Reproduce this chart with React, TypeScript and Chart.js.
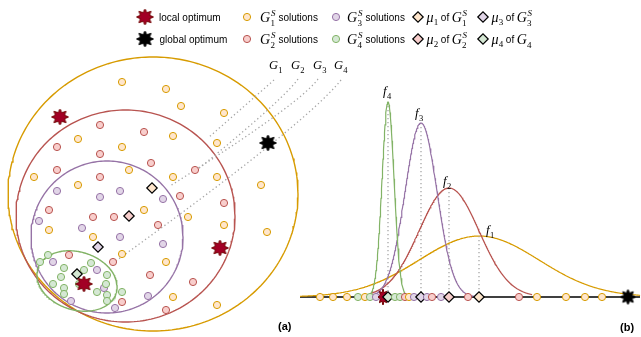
import React, { useEffect, useRef } from 'react';
import { Chart, registerables } from 'chart.js';

Chart.register(...registerables);

const WIDTH = 641;
const HEIGHT = 337;

// ---------- panel (a): solutions in the search space ----------
const g1SolX = [122, 166, 181, 224, 78, 122, 173, 217, 34, 78, 129, 173, 217, 261, 49, 144, 188, 224, 267, 93, 122, 166, 173, 217];
const g1SolY = [82, 89, 106, 113, 139, 147, 136, 143, 177, 185, 170, 177, 177, 185, 230, 210, 217, 225, 232, 237, 254, 262, 297, 305];
const g2SolX = [100, 144, 57, 100, 57, 100, 151, 195, 180, 224, 49, 93, 114, 158, 69, 113, 150, 193, 122, 166];
const g2SolY = [125, 132, 147, 154, 170, 177, 163, 170, 196, 203, 210, 217, 217, 225, 255, 262, 275, 282, 302, 310];
const g3SolX = [57, 100, 120, 163, 39, 82, 120, 163, 53, 97, 104, 71, 148, 115];
const g3SolY = [191, 197, 191, 199, 221, 228, 237, 244, 262, 270, 288, 301, 296, 308];
const g4SolX = [48, 40, 64, 91, 84, 61, 107, 53, 64, 64, 79, 106, 97, 107, 122, 107];
const g4SolY = [255, 262, 268, 263, 270, 277, 275, 284, 288, 294, 284, 284, 292, 295, 292, 301];
const meanX = [152, 129, 98, 77];
const meanY = [188, 216, 247, 274];
const localOptX = [60, 220, 84];
const localOptY = [117, 248, 284];
const globalOptX = [268];
const globalOptY = [143];

// group boundaries G1..G4
const ellCx = [153, 125.5, 107, 77];
const ellCy = [194, 216, 237, 281];
const ellRx = [145, 109.5, 76, 41];
const ellRy = [137, 106, 76, 29];
const ellRot = [0, 0, 0, 0.3];

// dotted leaders from labels G1..G4 (start, control, end of a quadratic curve)
const leaderX = [[274, 241, 208], [298, 285, 197], [318, 300, 170], [341, 305, 113]];
const leaderY = [[80, 109, 138], [79, 98, 170], [79, 104, 186], [80, 125, 263]];
const leaderLabelX = [269, 291, 313, 334];
const leaderLabelY = 69;

// ---------- panel (b): 1-D projection ----------
const axisY = 297;
const axisStart = 300;
const axisEnd = 640;
const axisG1X = [320, 333, 347, 365, 409, 537, 566, 585, 602];
const axisG2X = [405, 432, 468, 519];
const axisG3X = [376, 414, 427, 441];
const axisG4X = [358, 370, 395, 400];
const axisLocalX = [383];
const axisGlobalX = [628];
const fMu = [479, 449, 421, 388];
const fSigma = [60, 30, 16, 6];
const fPeak = [61, 109, 174, 195];
const fRangeStart = [300, 370, 368, 368];
const fRangeEnd = [640, 532, 474, 408];
const fLabelX = [486, 443, 415, 383];
const fLabelY = [234, 185, 117, 95];

const groupStroke = ['#D79B00', '#B85450', '#9673A6', '#82B366'];
const groupFill = ['#FFE6CC', '#F8CECC', '#E1D5E7', '#D5E8D4'];
const DOT = '#A6A6A6';
const SERIF = '"Liberation Serif", "DejaVu Serif", serif';
const SANS = '"Liberation Sans", Arial, sans-serif';

function makeStar(fill: string, stroke: string, w: number, h: number) {
  const c = document.createElement('canvas');
  c.width = Math.ceil(w + 4);
  c.height = Math.ceil(h + 4);
  const g = c.getContext('2d')!;
  g.translate(c.width / 2, c.height / 2);
  g.beginPath();
  const n = 8;
  for (let i = 0; i < n * 2; i++) {
    const a = -Math.PI / 2 + (i * Math.PI) / n;
    const r = i % 2 === 0 ? 1 : 0.58;
    const px = (Math.cos(a) * r * w) / 2;
    const py = (Math.sin(a) * r * h) / 2;
    if (i === 0) g.moveTo(px, py);
    else g.lineTo(px, py);
  }
  g.closePath();
  g.fillStyle = fill;
  g.fill();
  g.lineWidth = 1;
  g.strokeStyle = stroke;
  g.stroke();
  return c;
}

function pts(xs: number[], ys: number[]) {
  return xs.map((x, i) => ({ x, y: ys[i] }));
}

function quad(xs: number[], ys: number[]) {
  const out: { x: number; y: number }[] = [];
  for (let k = 0; k <= 60; k++) {
    const t = k / 60;
    const a = (1 - t) * (1 - t);
    const b = 2 * (1 - t) * t;
    const c = t * t;
    out.push({ x: a * xs[0] + b * xs[1] + c * xs[2], y: a * ys[0] + b * ys[1] + c * ys[2] });
  }
  return out;
}

function ellipse(i: number) {
  const out: { x: number; y: number }[] = [];
  const c = Math.cos(ellRot[i]);
  const s = Math.sin(ellRot[i]);
  for (let k = 0; k <= 240; k++) {
    const t = (2 * Math.PI * k) / 240;
    const ex = ellRx[i] * Math.cos(t);
    const ey = ellRy[i] * Math.sin(t);
    out.push({ x: ellCx[i] + ex * c - ey * s, y: ellCy[i] + ex * s + ey * c });
  }
  return out;
}

function density(i: number) {
  const out: { x: number; y: number }[] = [];
  for (let x = fRangeStart[i]; x <= fRangeEnd[i]; x += 0.5) {
    const d = (x - fMu[i]) / fSigma[i];
    out.push({ x, y: axisY - fPeak[i] * Math.exp(-0.5 * d * d) });
  }
  return out;
}

function drawMath(ctx: CanvasRenderingContext2D, x: number, base: number, main: string, sub: string, sup: string, size: number, ss: number) {
  ctx.textBaseline = 'alphabetic';
  ctx.textAlign = 'left';
  ctx.font = `italic ${size}px ${SERIF}`;
  ctx.fillText(main, x, base);
  const w = ctx.measureText(main).width;
  let end = x + w;
  if (sub) {
    ctx.font = `${ss}px ${SERIF}`;
    ctx.fillText(sub, x + w + 0.3, base + size * 0.28);
    end = Math.max(end, x + w + 0.3 + ctx.measureText(sub).width);
  }
  if (sup) {
    ctx.font = `italic ${ss}px ${SERIF}`;
    ctx.fillText(sup, x + w + 0.8, base - size * 0.42);
    end = Math.max(end, x + w + 0.8 + ctx.measureText(sup).width);
  }
  return end;
}

export default function App() {
  const ref = useRef<HTMLCanvasElement>(null);

  useEffect(() => {
    const canvas = ref.current!;
    const redStar = makeStar('#A20025', '#6F0000', 17, 16);
    const blackStar = makeStar('#000000', '#000000', 17, 16);
    const redStarAxis = makeStar('#A20025', '#6F0000', 10, 16);
    const blackStarAxis = makeStar('#000000', '#000000', 15, 15);

    // merged axis marks, drawn left to right
    type Mark = { x: number; kind: string; g: number };
    const marks: Mark[] = [];
    [axisG1X, axisG2X, axisG3X, axisG4X].forEach((arr, g) => arr.forEach((x) => marks.push({ x, kind: 'c', g })));
    fMu.forEach((x, g) => marks.push({ x, kind: 'd', g }));
    axisLocalX.forEach((x) => marks.push({ x, kind: 'l', g: 0 }));
    axisGlobalX.forEach((x) => marks.push({ x, kind: 'gl', g: 0 }));
    marks.sort((a, b) => a.x - b.x);

    const datasets: any[] = [];
    const line = (data: any, color: string, width: number, dash: number[] = []) => ({
      type: 'scatter',
      data,
      showLine: true,
      pointRadius: 0,
      borderColor: color,
      borderWidth: width,
      borderDash: dash,
      tension: 0,
      fill: false,
    });
    for (let i = 0; i < 4; i++) datasets.push(line(ellipse(i), groupStroke[i], 1.4));
    for (let i = 0; i < 4; i++) datasets.push(line(quad(leaderX[i], leaderY[i]), DOT, 1.3, [1.3, 2.7]));
    datasets.push(line(pts([axisStart, axisEnd], [axisY, axisY]), '#000000', 1.3));
    for (let i = 0; i < 4; i++)
      datasets.push(line(pts([fMu[i], fMu[i]], [axisY - fPeak[i], axisY]), DOT, 1.3, [1.3, 2.7]));
    for (let i = 0; i < 4; i++) datasets.push(line(density(i), groupStroke[i], 1.2));

    const solX = [g1SolX, g2SolX, g3SolX, g4SolX];
    const solY = [g1SolY, g2SolY, g3SolY, g4SolY];
    for (let i = 0; i < 4; i++)
      datasets.push({
        type: 'scatter',
        data: pts(solX[i], solY[i]),
        pointRadius: 3.6,
        pointBackgroundColor: groupFill[i],
        pointBorderColor: groupStroke[i],
        pointBorderWidth: 1,
      });
    datasets.push({
      type: 'scatter',
      data: pts(meanX, meanY),
      pointStyle: 'rectRot',
      pointRadius: 5.2,
      pointBackgroundColor: groupFill,
      pointBorderColor: '#000000',
      pointBorderWidth: 1.2,
    });
    datasets.push({
      type: 'scatter',
      data: pts(localOptX, localOptY),
      pointStyle: redStar,
      pointRadius: 8,
    });
    datasets.push({
      type: 'scatter',
      data: pts(globalOptX, globalOptY),
      pointStyle: blackStar,
      pointRadius: 8,
    });
    datasets.push({
      type: 'scatter',
      data: marks.map((m) => ({ x: m.x, y: axisY })),
      pointStyle: marks.map((m) => (m.kind === 'd' ? 'rectRot' : m.kind === 'l' ? redStarAxis : m.kind === 'gl' ? blackStarAxis : 'circle')),
      pointRadius: marks.map((m) => (m.kind === 'd' ? 5.2 : m.kind === 'c' ? 3.6 : 8)),
      pointBackgroundColor: marks.map((m) => groupFill[m.g]),
      pointBorderColor: marks.map((m) => (m.kind === 'd' ? '#000000' : groupStroke[m.g])),
      pointBorderWidth: marks.map((m) => (m.kind === 'd' ? 1.2 : 1)),
    });
    datasets.forEach((d, i) => (d.order = -i));

    const textPlugin = {
      id: 'diagramText',
      afterDatasetsDraw(chart: any) {
        const ctx: CanvasRenderingContext2D = chart.ctx;
        ctx.save();
        ctx.fillStyle = '#000';
        // legend marks
        const rows = [17, 39];
        ctx.drawImage(redStar, 145 - redStar.width / 2, rows[0] - redStar.height / 2);
        ctx.drawImage(blackStar, 145 - blackStar.width / 2, rows[1] - blackStar.height / 2);
        const circ = (x: number, y: number, g: number) => {
          ctx.beginPath();
          ctx.arc(x, y, 3.6, 0, Math.PI * 2);
          ctx.fillStyle = groupFill[g];
          ctx.fill();
          ctx.lineWidth = 1;
          ctx.strokeStyle = groupStroke[g];
          ctx.stroke();
        };
        const dia = (x: number, y: number, g: number) => {
          ctx.beginPath();
          ctx.moveTo(x - 5.2, y);
          ctx.lineTo(x, y - 5.2);
          ctx.lineTo(x + 5.2, y);
          ctx.lineTo(x, y + 5.2);
          ctx.closePath();
          ctx.fillStyle = groupFill[g];
          ctx.fill();
          ctx.lineWidth = 1.2;
          ctx.strokeStyle = '#000';
          ctx.stroke();
        };
        circ(247, rows[0], 0);
        circ(247, rows[1], 1);
        circ(336, rows[0], 2);
        circ(336, rows[1], 3);
        dia(418, rows[0], 0);
        dia(418, rows[1], 1);
        dia(483, rows[0], 2);
        dia(483, rows[1], 3);

        ctx.fillStyle = '#000';
        ctx.font = `10px ${SANS}`;
        ctx.textBaseline = 'alphabetic';
        ctx.fillText('local optimum', 159, rows[0] + 3.6);
        ctx.fillText('global optimum', 159.5, rows[1] + 3.6);

        const solItem = (x: number, y: number, idx: string) => {
          const e = drawMath(ctx, x, y + 5, 'G', idx, 'S', 14, 9);
          ctx.font = `10px ${SANS}`;
          ctx.fillText('solutions', e + 3, y + 3.6);
        };
        solItem(260, rows[0], '1');
        solItem(260, rows[1], '2');
        solItem(347, rows[0], '3');
        solItem(347, rows[1], '4');

        const muItem = (x: number, y: number, idx: string, sup: string) => {
          const e = drawMath(ctx, x, y + 4.5, 'μ', idx, '', 14, 9);
          ctx.font = `10px ${SANS}`;
          ctx.fillText('of', e + 2.5, y + 3.6);
          const w = ctx.measureText('of').width;
          drawMath(ctx, e + 2.5 + w + 2.5, y + 5, 'G', idx, sup, 14, 9);
        };
        muItem(426.5, rows[0], '1', 'S');
        muItem(426.5, rows[1], '2', 'S');
        muItem(491.5, rows[0], '3', 'S');
        muItem(491.5, rows[1], '4', '');

        // group labels above the leaders
        for (let i = 0; i < 4; i++) drawMath(ctx, leaderLabelX[i], leaderLabelY, 'G', String(i + 1), '', 12.5, 8.5);
        // density labels
        for (let i = 0; i < 4; i++) drawMath(ctx, fLabelX[i], fLabelY[i], 'f', String(i + 1), '', 13, 8.5);

        ctx.font = `bold 11px ${SANS}`;
        ctx.textBaseline = 'middle';
        ctx.fillText('(a)', 278, 327);
        ctx.fillText('(b)', 620, 328);
        ctx.restore();
      },
    };

    const chart = new Chart(canvas, {
      type: 'scatter',
      data: { datasets },
      options: {
        animation: false,
        responsive: false,
        maintainAspectRatio: false,
        events: [],
        layout: { padding: 0, autoPadding: false },
        plugins: { legend: { display: false }, tooltip: { enabled: false } },
        scales: {
          x: { type: 'linear', min: 0, max: WIDTH, display: false },
          y: { type: 'linear', min: 0, max: HEIGHT, reverse: true, display: false },
        },
      },
      plugins: [textPlugin],
    } as any);
    return () => chart.destroy();
  }, []);

  return (
    <div style={{ position: 'absolute', left: 0, top: 0, width: WIDTH, height: HEIGHT, background: '#fff' }}>
      <canvas ref={ref} width={WIDTH} height={HEIGHT} style={{ display: 'block', width: WIDTH, height: HEIGHT }} />
    </div>
  );
}
